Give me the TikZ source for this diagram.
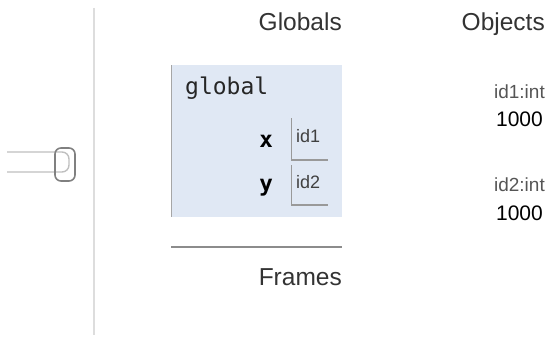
\documentclass[tikz,border=0pt]{standalone}
\usepackage{fontspec}
\setmainfont{Liberation Sans}
\newfontfamily\vmono{DejaVu Sans Mono}
\definecolor{framebg}{RGB}{224,232,244}
\definecolor{headc}{RGB}{51,51,51}
\definecolor{typec}{RGB}{85,85,85}
\definecolor{divc}{RGB}{221,221,221}
\tikzset{
  x=1pt, y=-1pt,
  heading/.style={anchor=base east, inner sep=0pt, text=headc, font=\fontsize{24.5}{28}\selectfont},
  varname/.style={anchor=base east, inner sep=0pt, text=black, font=\vmono\bfseries\fontsize{22.5}{26}\selectfont},
  refid/.style={anchor=base west, inner sep=0pt, text=black!75, font=\fontsize{18}{21}\selectfont},
  typelbl/.style={anchor=base east, inner sep=0pt, text=typec, font=\fontsize{19}{22}\selectfont},
  valuelbl/.style={anchor=base east, inner sep=0pt, text=black, font=\fontsize{21}{24}\selectfont},
  refbox/.style={draw=black!40, line width=1.2pt},
}
\begin{document}
\begin{tikzpicture}
\useasboundingbox (0,0) rectangle (551,337);
% divider
\draw[divc, line width=1.5pt] (94,8) -- (94,335);
% slider track and handle
\draw[black!25, line width=1.4pt, rounded corners=7pt] (7,152) -- (69,152) -- (69,172) -- (7,172);
\draw[black!50, line width=1.6pt, rounded corners=6pt] (55,148) rectangle (75,181);
% headings
\node[heading] (hglob) at (342,31) {Globals};
\node[heading] (hobj) at (545,31) {Objects};
% global frame
\fill[framebg] (171,65) rectangle (342,217);
\draw[black!35, line width=1.5pt] (171.5,65) -- (171.5,217);
\node[anchor=base west, inner sep=0pt, text=black!85, font=\vmono\fontsize{23}{26}\selectfont] (gname) at (185,94) {global};
\node[varname] (vx) at (273,147.5) {x};
\node[varname] (vy) at (273,191.5) {y};
\draw[refbox] (291.7,118) -- (291.7,160) -- (327.7,160);
\draw[refbox] (291.7,165) -- (291.7,205) -- (327.7,205);
\node[refid] (r1) at (296,142) {id1};
\node[refid] (r2) at (296,188) {id2};
% frames separator
\draw[black!45, line width=1.8pt] (171,246.7) -- (342,246.7);
\node[heading] (hfr) at (342,285) {Frames};
% objects
\node[typelbl] (t1) at (545,98.5) {id1:int};
\node[valuelbl] (v1) at (543,126.7) {1000};
\node[typelbl] (t2) at (545,191.7) {id2:int};
\node[valuelbl] (v2) at (543,220) {1000};
\end{tikzpicture}
\end{document}
